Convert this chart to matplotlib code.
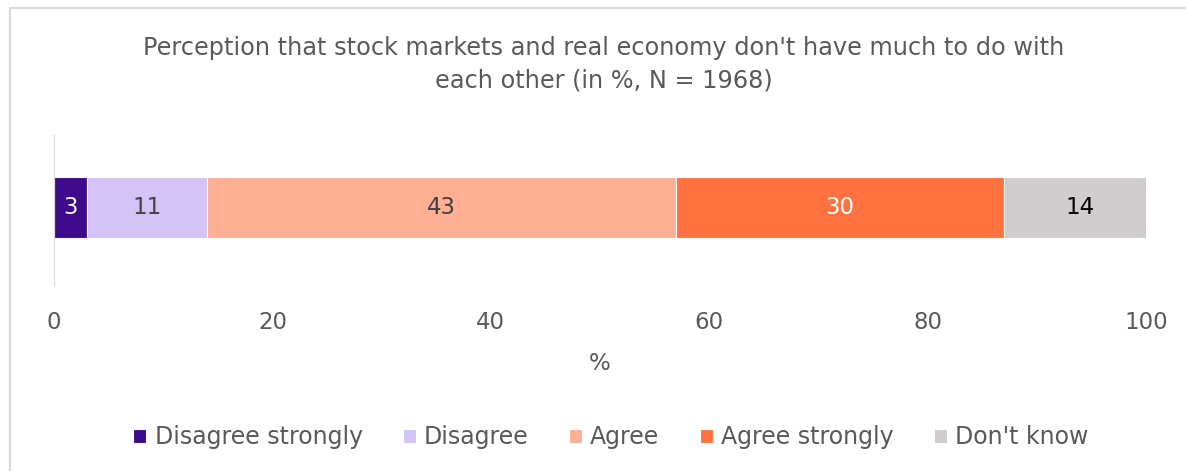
import matplotlib.pyplot as plt
from matplotlib.patches import Rectangle

# answer shares (in %)
labels = ['Disagree strongly', 'Disagree', 'Agree', 'Agree strongly', "Don't know"]
values = [3, 11, 43, 30, 14]
colors = ['#3c0a8a', '#d4c3f5', '#ffb094', '#ff7240', '#d0cccd']
text_colors = ['white', '#404040', '#404040', 'white', 'black']
ticks = [0, 20, 40, 60, 80, 100]

plt.rcParams['font.family'] = ['DejaVu Sans']
grey = '#595959'

fig = plt.figure(figsize=(11.86, 4.71), dpi=100)
ax = fig.add_axes([54 / 1186, 1 - 285 / 471, 1092 / 1186, 150 / 471])

left = 0
for lab, v, c, tc in zip(labels, values, colors, text_colors):
    ax.barh(0, v, left=left, height=0.8, color=c, edgecolor='white', linewidth=0.8, label=lab)
    ax.text(left + v / 2, 0, str(v), ha='center', va='center', fontsize=16.5, color=tc)
    left += v

ax.set_xlim(0, 100)
ax.set_ylim(-1.02, 0.945)
ax.set_xticks(ticks)
ax.set_yticks([])
ax.tick_params(axis='x', length=0, labelsize=16.5, labelcolor=grey, pad=19)
for s in ['top', 'right', 'bottom']:
    ax.spines[s].set_visible(False)
ax.spines['left'].set_color('#d9d9d9')
ax.set_xlabel('%', fontsize=16.5, color=grey, labelpad=13)

fig.text(0.509, 1 - 64 / 471, "Perception that stock markets and real economy don't have much to do with\neach other (in %, N = 1968)",
         ha='center', va='center', fontsize=17.3, color=grey, linespacing=1.45)

fig.legend(loc='center', bbox_to_anchor=(0.515, 1 - 437 / 471), ncol=5, frameon=False,
           fontsize=17, labelcolor=grey, handlelength=0.55, handleheight=0.55,
           handletextpad=0.35, columnspacing=1.7)

# light frame around the chart area
fig.patches.append(Rectangle((10 / 1186, -0.1), 1.2, 1 - 8 / 471 + 0.1, transform=fig.transFigure,
                             fill=False, edgecolor='#d9d9d9', linewidth=1.5))

fig.savefig('out.png', dpi=100)
